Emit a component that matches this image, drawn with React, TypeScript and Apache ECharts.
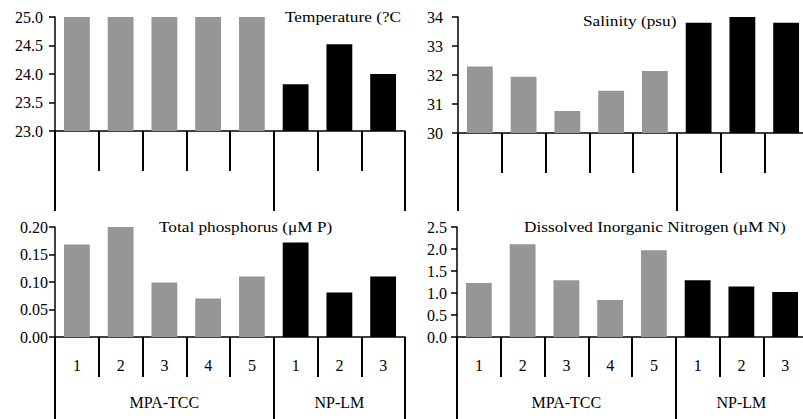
import React, { useEffect, useRef } from "react";
import * as echarts from "echarts";

// ---- data ----
const stations = ["1", "2", "3", "4", "5", "1", "2", "3"];
const groupNames = ["MPA-TCC", "NP-LM"];
const groupSizes = [5, 3];
const groupColors = ["#969696", "#000000"];

const temperature = [25.0, 25.0, 25.0, 25.0, 25.0, 23.82, 24.52, 24.0];
const salinity = [32.29, 31.94, 30.76, 31.46, 32.14, 33.8, 34.0, 33.8];
const totalPhosphorus = [0.168, 0.201, 0.099, 0.07, 0.11, 0.172, 0.081, 0.11];
const dissolvedNitrogen = [1.23, 2.11, 1.29, 0.84, 1.97, 1.29, 1.15, 1.02];

const temperatureTicks = [23.0, 23.5, 24.0, 24.5, 25.0];
const salinityTicks = [30, 31, 32, 33, 34];
const phosphorusTicks = [0.0, 0.05, 0.1, 0.15, 0.2];
const nitrogenTicks = [0.0, 0.5, 1.0, 1.5, 2.0, 2.5];

const titles = [
  "Temperature (?C",
  "Salinity (psu)",
  "Total phosphorus (μM P)",
  "Dissolved Inorganic Nitrogen (μM N)",
];

// ---- layout ----
const FONT = "'Liberation Serif', 'Times New Roman', serif";
const panels = [
  { values: temperature, ticks: temperatureTicks, dec: 1, left: 55, top: 17, height: 114, bottomRow: false, labelMargin: 12, titleX: 285, titleY: 17, longTick: 80 },
  { values: salinity, ticks: salinityTicks, dec: 0, left: 458, top: 17, height: 116, bottomRow: false, labelMargin: 15, titleX: 583, titleY: 21, longTick: 78 },
  { values: totalPhosphorus, ticks: phosphorusTicks, dec: 2, left: 55, top: 227, height: 110, bottomRow: true, labelMargin: 7, titleX: 159, titleY: 227, longTick: 85 },
  { values: dissolvedNitrogen, ticks: nitrogenTicks, dec: 1, left: 457, top: 227, height: 110, bottomRow: true, labelMargin: 10, titleX: 524, titleY: 227, longTick: 85 },
];
const GRID_WIDTH = 350;

function groupIndexOf(i: number): number {
  let acc = 0;
  for (let g = 0; g < groupSizes.length; g++) {
    acc += groupSizes[g];
    if (i < acc) return g;
  }
  return groupSizes.length - 1;
}

const boundaries: number[] = [0];
groupSizes.forEach((s) => boundaries.push(boundaries[boundaries.length - 1] + s));
const groupCenters = groupSizes.map((s, g) => boundaries[g] + s / 2);

export default function App() {
  const ref = useRef<HTMLDivElement>(null);

  useEffect(() => {
    if (!ref.current) return;
    const chart = echarts.init(ref.current, undefined, { renderer: "svg" });

    const black = "#000000";
    const grid: any[] = [];
    const xAxis: any[] = [];
    const yAxis: any[] = [];
    const series: any[] = [];
    const graphic: any[] = [];

    panels.forEach((p, i) => {
      grid.push({ left: p.left, top: p.top, width: GRID_WIDTH, height: p.height, containLabel: false });
      xAxis.push({
        type: "category",
        gridIndex: i,
        data: stations,
        position: "bottom",
        axisLine: { show: true, onZero: false, lineStyle: { color: black, width: 1.5 } },
        axisTick: { show: true, length: 40, lineStyle: { color: black, width: 2 } },
        axisLabel: { show: p.bottomRow, color: black, fontSize: 16, fontFamily: FONT, margin: 20 },
        splitLine: { show: false },
      });
      xAxis.push({
        type: "value",
        gridIndex: i,
        min: 0,
        max: boundaries[boundaries.length - 1],
        position: "bottom",
        axisLine: { show: false, onZero: false },
        axisTick: { show: true, length: p.longTick, customValues: boundaries, lineStyle: { color: black, width: 2 } },
        axisLabel: {
          show: p.bottomRow,
          customValues: groupCenters,
          formatter: (v: number) => {
            const g = groupCenters.findIndex((c) => Math.abs(c - v) < 1e-6);
            return g >= 0 ? groupNames[g] : "";
          },
          color: black,
          fontSize: 16,
          fontFamily: FONT,
          margin: 57,
        },
        splitLine: { show: false },
      });
      const t = p.ticks;
      yAxis.push({
        type: "value",
        gridIndex: i,
        min: t[0],
        max: t[t.length - 1],
        interval: t[1] - t[0],
        axisLine: { show: true, lineStyle: { color: black, width: 1.5 } },
        axisTick: { show: true, length: 6, lineStyle: { color: black, width: 1.5 } },
        axisLabel: {
          color: black,
          fontSize: 16,
          fontFamily: FONT,
          margin: p.labelMargin,
          formatter: (v: number) => v.toFixed(p.dec),
        },
        splitLine: { show: false },
      });
      series.push({
        type: "bar",
        xAxisIndex: i * 2,
        yAxisIndex: i,
        barWidth: "59%",
        data: p.values.map((v, j) => ({ value: v, itemStyle: { color: groupColors[groupIndexOf(j)] } })),
      });
      graphic.push({
        type: "text",
        x: p.titleX,
        y: p.titleY,
        scaleX: 1.15,
        z: 100,
        style: {
          text: titles[i],
          fontSize: 15,
          fontFamily: FONT,
          fill: black,
          align: "left",
          verticalAlign: "middle",
        },
      });
    });

    chart.setOption({
      animation: false,
      backgroundColor: "#ffffff",
      grid,
      xAxis,
      yAxis,
      series,
      graphic,
    });

    return () => chart.dispose();
  }, []);

  return (
    <div style={{ position: "fixed", left: 0, top: 0, width: 803, height: 419, overflow: "hidden", background: "#fff" }}>
      <div ref={ref} style={{ width: 815, height: 419 }} />
    </div>
  );
}
